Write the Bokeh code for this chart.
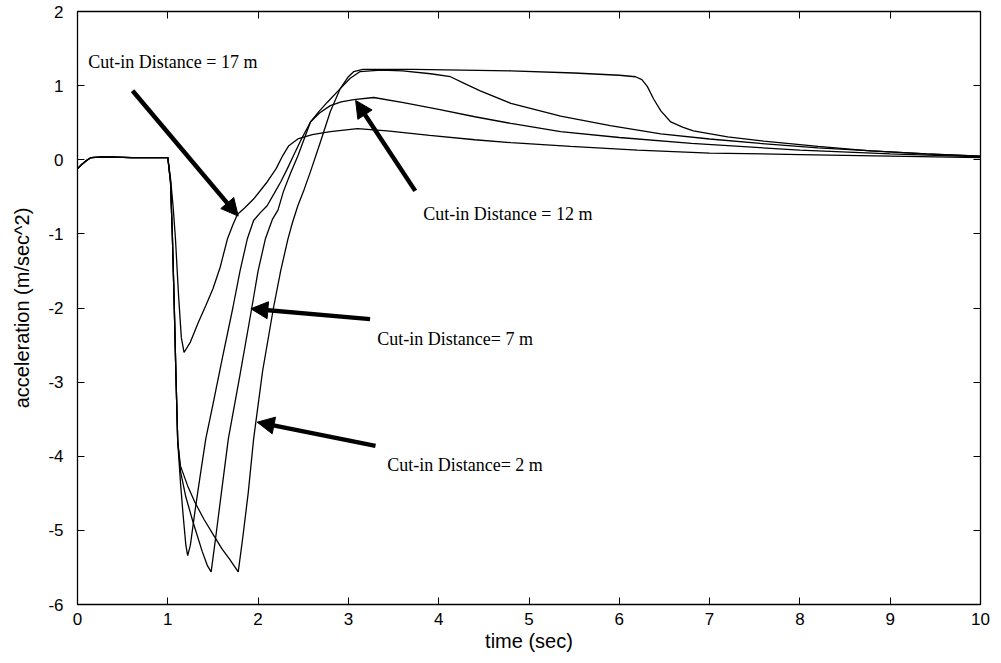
from bokeh.plotting import figure
from bokeh.models import Range1d, LinearAxis, FixedTicker, Arrow, NormalHead, Label, CustomJSTickFormatter
from bokeh.embed import file_html
from bokeh.resources import INLINE

# ---- data ----
t17 = [0, 0.05, 0.10, 0.15, 0.30, 0.60, 1.00, 1.03, 1.06, 1.085, 1.12, 1.15, 1.18, 1.25, 1.34,
       1.42, 1.50, 1.58, 1.66, 1.72, 1.77, 1.85, 1.95, 2.10, 2.20, 2.27, 2.34, 2.44, 2.60, 2.80,
       3.10, 3.43, 3.90, 4.40, 4.80, 5.46, 6.20, 7.00, 8.00, 9.00, 10.0]
a17 = [-0.12, -0.06, -0.01, 0.03, 0.04, 0.03, 0.03, -0.25, -0.65, -1.07, -1.85, -2.40, -2.60, -2.46, -2.19,
       -1.97, -1.74, -1.45, -1.07, -0.88, -0.74, -0.65, -0.53, -0.30, -0.12, 0.05, 0.19, 0.28, 0.34, 0.38,
       0.42, 0.39, 0.33, 0.27, 0.23, 0.18, 0.13, 0.09, 0.07, 0.05, 0.03]

t12 = [0, 0.05, 0.10, 0.15, 0.30, 0.60, 1.00, 1.03, 1.05, 1.07, 1.09, 1.11, 1.14, 1.17, 1.20, 1.22,
       1.25, 1.30, 1.36, 1.42, 1.50, 1.60, 1.72, 1.80, 1.88, 1.95, 2.02, 2.10, 2.18, 2.25, 2.32, 2.39,
       2.48, 2.58, 2.68, 2.80, 2.92, 3.06, 3.28, 3.61, 4.00, 4.40, 4.80, 5.35, 6.00, 6.80, 8.00, 9.00, 10.0]
a12 = [-0.12, -0.06, -0.01, 0.03, 0.04, 0.03, 0.03, -0.30, -1.00, -1.90, -2.90, -3.80, -4.35, -4.80, -5.20, -5.34,
       -5.20, -4.75, -4.25, -3.77, -3.30, -2.70, -2.00, -1.50, -1.07, -0.82, -0.72, -0.62, -0.45, -0.30, -0.13, 0.05,
       0.28, 0.51, 0.63, 0.73, 0.78, 0.81, 0.84, 0.77, 0.68, 0.58, 0.49, 0.38, 0.30, 0.22, 0.13, 0.08, 0.04]

t7 = [0, 0.05, 0.10, 0.15, 0.30, 0.60, 1.00, 1.03, 1.05, 1.07, 1.09, 1.11, 1.14, 1.20, 1.28, 1.38,
      1.44, 1.48, 1.53, 1.60, 1.67, 1.80, 1.93, 2.00, 2.08, 2.16, 2.22, 2.28, 2.36, 2.44, 2.51, 2.58,
      2.68, 2.77, 2.91, 3.02, 3.13, 3.36, 3.60, 3.91, 4.13, 4.30, 4.46, 4.80, 5.35, 5.90, 6.46, 7.00,
      7.56, 8.20, 8.80, 9.40, 10.0]
a7 = [-0.12, -0.06, -0.01, 0.03, 0.04, 0.03, 0.03, -0.30, -1.00, -1.90, -2.90, -3.80, -4.20, -4.55, -4.89, -5.28,
      -5.48, -5.56, -5.10, -4.43, -3.77, -2.90, -2.00, -1.50, -1.07, -0.80, -0.68, -0.43, -0.18, 0.05, 0.28, 0.51,
      0.66, 0.78, 0.96, 1.10, 1.19, 1.21, 1.20, 1.16, 1.12, 1.02, 0.93, 0.76, 0.59, 0.46, 0.35, 0.28,
      0.22, 0.16, 0.12, 0.08, 0.05]

t2 = [0, 0.05, 0.10, 0.15, 0.30, 0.60, 1.00, 1.03, 1.05, 1.07, 1.09, 1.11, 1.14, 1.22, 1.30, 1.40,
      1.51, 1.60, 1.68, 1.78, 1.83, 1.89, 1.95, 2.05, 2.17, 2.25, 2.33, 2.38, 2.44, 2.51, 2.58, 2.69,
      2.80, 2.91, 3.00, 3.06, 3.16, 3.72, 4.80, 5.50, 6.00, 6.18, 6.25, 6.31, 6.38, 6.46, 6.57, 6.70,
      6.82, 7.20, 7.60, 8.20, 8.78, 9.40, 10.0]
a2 = [-0.12, -0.06, -0.01, 0.03, 0.04, 0.03, 0.03, -0.30, -1.00, -1.90, -2.90, -3.80, -4.13, -4.40, -4.62, -4.85,
      -5.07, -5.25, -5.38, -5.56, -5.10, -4.50, -3.77, -2.85, -2.00, -1.50, -1.07, -0.85, -0.62, -0.40, -0.16, 0.24,
      0.65, 0.96, 1.12, 1.19, 1.22, 1.22, 1.20, 1.17, 1.14, 1.12, 1.08, 0.99, 0.82, 0.66, 0.51, 0.44,
      0.39, 0.31, 0.25, 0.18, 0.12, 0.08, 0.05]

x_ticks = [0, 1, 2, 3, 4, 5, 6, 7, 8, 9, 10]
y_ticks = [-6, -5, -4, -3, -2, -1, 0, 1, 2]

labels = ["Cut-in Distance = 17 m", "Cut-in Distance = 12 m", "Cut-in Distance= 7 m", "Cut-in Distance= 2 m"]

# ---- figure ----
p = figure(width=993, height=661, output_backend="svg", toolbar_location=None,
           x_range=Range1d(0, 10), y_range=Range1d(-6, 2),
           min_border_left=77, min_border_right=13, min_border_top=11, min_border_bottom=57,
           x_axis_label="time (sec)", y_axis_label="acceleration (m/sec^2)")
p.background_fill_color = "white"
p.border_fill_color = "white"
p.outline_line_color = "black"
p.outline_line_width = 1.3
p.xgrid.visible = False
p.ygrid.visible = False

font = "Liberation Sans"
plain = CustomJSTickFormatter(code="return tick.toString()")
for ax, ticks in ((p.xaxis[0], x_ticks), (p.yaxis[0], y_ticks)):
    ax.ticker = FixedTicker(ticks=ticks)
    ax.formatter = plain
    ax.major_tick_in = 7
    ax.major_tick_out = 0
    ax.minor_tick_line_color = None
    ax.axis_line_color = "black"
    ax.major_tick_line_color = "black"
    ax.major_label_text_font = font
    ax.major_label_text_font_size = "17px"
    ax.major_label_text_color = "black"
    ax.axis_label_text_font = font
    ax.axis_label_text_font_style = "normal"
    ax.axis_label_text_color = "black"
    ax.axis_label_text_font_size = "20px"

p.xaxis.major_label_standoff = 8
p.xaxis.axis_label_standoff = 2
p.yaxis.major_label_standoff = 14
p.yaxis.axis_label_standoff = 12

# ticks on top / right (box style)
empty = CustomJSTickFormatter(code="return ''")
top = LinearAxis(ticker=FixedTicker(ticks=x_ticks), major_tick_in=7, major_tick_out=0,
                 minor_tick_line_color=None, axis_line_color=None, formatter=empty,
                 major_label_standoff=0, major_label_text_font_size="0px")
right = LinearAxis(ticker=FixedTicker(ticks=y_ticks), major_tick_in=7, major_tick_out=0,
                   minor_tick_line_color=None, axis_line_color=None, formatter=empty,
                   major_label_standoff=0, major_label_text_font_size="0px")
p.add_layout(top, "above")
p.add_layout(right, "right")

# ---- curves ----
for tt, aa in ((t17, a17), (t12, a12), (t7, a7), (t2, a2)):
    p.line(tt, aa, line_color="black", line_width=1.3)

# ---- annotations ----
arrows = [((0.61, 0.93), (1.78, -0.76)),
          ((3.74, -0.42), (3.08, 0.80)),
          ((3.24, -2.15), (1.92, -2.01)),
          ((3.30, -3.86), (1.99, -3.54))]
for (x0, y0), (x1, y1) in arrows:
    p.add_layout(Arrow(x_start=x0, y_start=y0, x_end=x1, y_end=y1, line_color="black", line_width=4.5,
                       end=NormalHead(size=17, fill_color="black", line_color="black")))

label_pos = [(0.12, 1.32), (3.83, -0.73), (3.32, -2.42), (3.43, -4.12)]
for txt, (lx, ly) in zip(labels, label_pos):
    p.add_layout(Label(x=lx, y=ly, text=txt, text_font="Liberation Serif", text_font_size="18px",
                       text_color="black", text_baseline="middle", text_align="left"))

open("out.html", "w").write(file_html(p, INLINE))
